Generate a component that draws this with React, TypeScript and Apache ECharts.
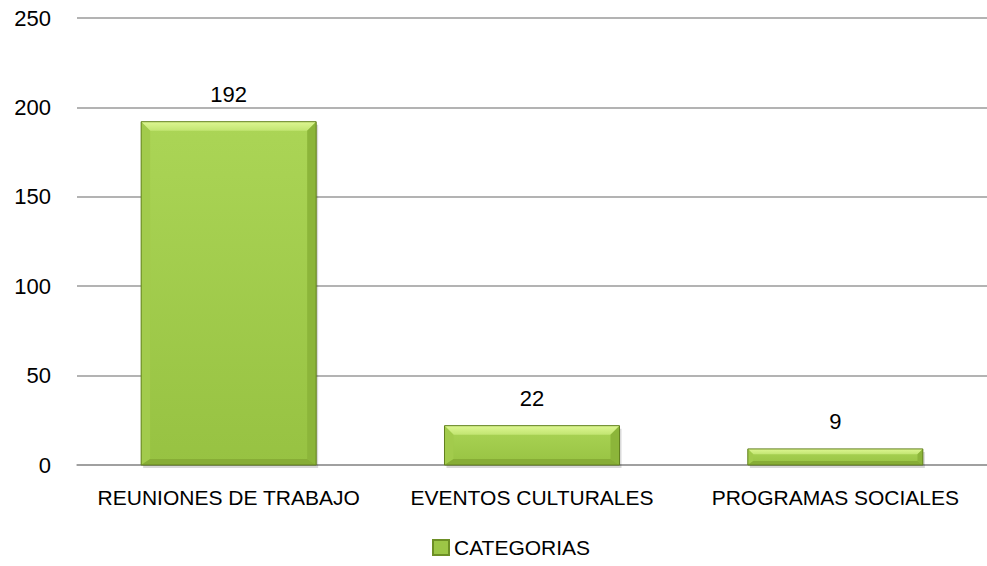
import React, { useEffect, useRef } from "react";
import * as echarts from "echarts";

const categories = ["REUNIONES DE TRABAJO", "EVENTOS CULTURALES", "PROGRAMAS SOCIALES"];
const values = [192, 22, 9];
const seriesName = "CATEGORIAS";
const yTicks = { min: 0, max: 250, interval: 50 };

const FONT = "Liberation Sans";

export default function App() {
  const ref = useRef<HTMLDivElement>(null);
  useEffect(() => {
    if (!ref.current) return;
    const chart = echarts.init(ref.current, null, { renderer: "svg" });
    const renderItem = (params: any, api: any) => {
      const idx = api.value(0);
      const v = api.value(1);
      const top = api.coord([idx, v]);
      const base = api.coord([idx, 0]);
      const bw = api.size([1, 0])[0] * 0.577;
      const x0 = top[0] - bw / 2;
      const x1 = top[0] + bw / 2;
      const y0 = top[1];
      const y1 = base[1];
      const h = y1 - y0;
      const b = Math.min(9, h / 3, bw / 4);
      const bb = Math.min(6, h / 4);
      return {
        type: "group",
        children: [
          {
            type: "rect",
            shape: { x: x0 + 2, y: y0 + 3, width: bw, height: h },
            style: { fill: "rgba(0,0,0,0.15)" },
            z2: 0,
          },
          {
            type: "rect",
            shape: { x: x0, y: y0, width: bw, height: h },
            style: {
              fill: new echarts.graphic.LinearGradient(0, 0, 0, 1, [
                { offset: 0, color: "#abd556" },
                { offset: 1, color: "#97c242" },
              ]),
            },
            z2: 1,
          },
          {
            type: "polygon",
            shape: { points: [[x0, y0], [x1, y0], [x1 - b, y0 + b], [x0 + b, y0 + b]] },
            style: {
              fill: new echarts.graphic.LinearGradient(0, 0, 0, 1, [
                { offset: 0, color: "#def792" },
                { offset: 1, color: "#c2e572" },
              ]),
            },
            z2: 2,
          },
          {
            type: "polygon",
            shape: { points: [[x0, y0], [x0 + b, y0 + b], [x0 + b, y1 - bb], [x0, y1]] },
            style: { fill: "#a2cb4c" },
            z2: 2,
          },
          {
            type: "polygon",
            shape: { points: [[x1, y0], [x1 - b, y0 + b], [x1 - b, y1 - bb], [x1, y1]] },
            style: { fill: "#8cb53a" },
            z2: 2,
          },
          {
            type: "polygon",
            shape: { points: [[x0, y1], [x0 + b, y1 - bb], [x1 - b, y1 - bb], [x1, y1]] },
            style: { fill: "#87ad36" },
            z2: 2,
          },
          {
            type: "rect",
            shape: { x: x0, y: y0, width: bw, height: h },
            style: { fill: "none", stroke: "#62801f", lineWidth: 1 },
            z2: 3,
          },
          {
            type: "text",
            x: top[0],
            y: y0 - 16,
            style: {
              text: String(v),
              fontSize: 22,
              fontFamily: FONT,
              fill: "#000",
              align: "center",
              verticalAlign: "bottom",
            },
            z2: 4,
          },
        ],
      };
    };
    chart.setOption({
      animation: false,
      textStyle: { fontFamily: FONT },
      grid: { left: 77, top: 18, width: 918, height: 447, containLabel: false },
      legend: {
        data: [seriesName],
        left: 432,
        top: 537,
        padding: 0,
        icon: "rect",
        itemWidth: 16,
        itemHeight: 15,
        itemGap: 6,
        textStyle: { fontSize: 21, color: "#000", fontFamily: FONT },
      },
      xAxis: {
        type: "category",
        data: categories,
        axisLine: { lineStyle: { color: "#9a9a9a", width: 1.5 } },
        axisTick: { show: false },
        axisLabel: { fontSize: 21, color: "#000", margin: 22, fontFamily: FONT, interval: 0 },
      },
      yAxis: {
        type: "value",
        min: yTicks.min,
        max: yTicks.max,
        interval: yTicks.interval,
        axisLine: { show: false },
        axisTick: { show: false },
        axisLabel: { fontSize: 22, color: "#000", margin: 26, fontFamily: FONT },
        splitLine: { lineStyle: { color: "#9a9a9a", width: 1.5 } },
      },
      series: [
        {
          name: seriesName,
          type: "custom",
          renderItem,
          itemStyle: { color: "#9cc646", borderColor: "#6d8f25", borderWidth: 1 },
          encode: { x: 0, y: 1 },
          data: values.map((v, i) => [i, v]),
          clip: false,
        },
      ],
    });
    return () => chart.dispose();
  }, []);
  return (
    <div
      ref={ref}
      style={{ position: "fixed", left: 0, top: 0, width: 987, height: 566, background: "#fff" }}
    />
  );
}
